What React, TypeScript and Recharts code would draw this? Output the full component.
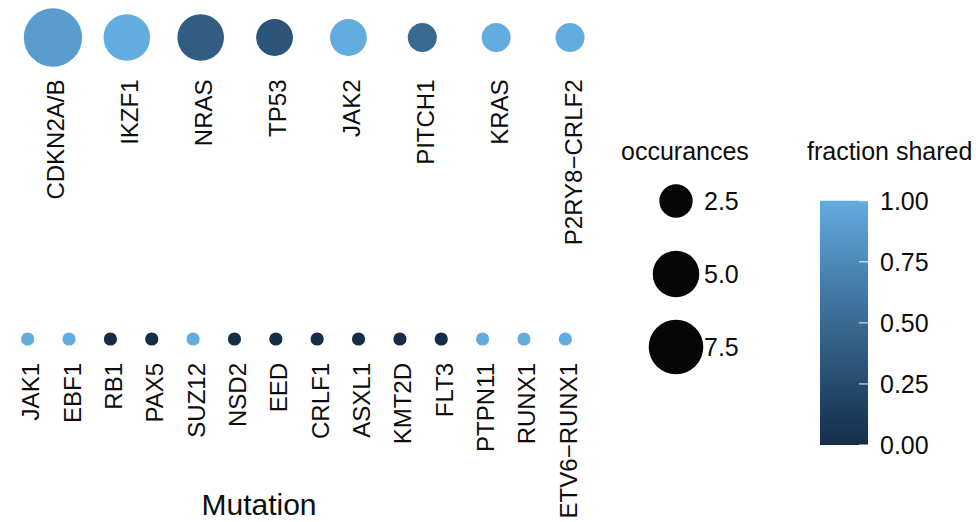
import { ScatterChart, Scatter, BarChart, Bar, XAxis, YAxis, ZAxis, Cell, LabelList } from "recharts"

const topGenes = ["CDKN2A/B", "IKZF1", "NRAS", "TP53", "JAK2", "PITCH1", "KRAS", "P2RY8−CRLF2"]
const topOccurrences = [9, 5, 5, 3, 3, 2, 2, 2]
const topShared = [0.89, 1, 0.4, 0.33, 1, 0.5, 1, 1]

const bottomGenes = ["JAK1", "EBF1", "RB1", "PAX5", "SUZ12", "NSD2", "EED", "CRLF1", "ASXL1", "KMT2D", "FLT3", "PTPN11", "RUNX1", "ETV6−RUNX1"]
const bottomOccurrences = [1, 1, 1, 1, 1, 1, 1, 1, 1, 1, 1, 1, 1, 1]
const bottomShared = [1, 1, 0, 0, 1, 0, 0, 0, 0, 0, 0, 1, 1, 1]

const sizeBreaks = [2.5, 5, 7.5]
const fractionTicks = [0, 0.25, 0.5, 0.75, 1]

const FONT = "'Liberation Sans', Arial, sans-serif"
const INK = "#0d0d0d"

// gradient ends as they appear in the picture, interpolated in Lab
const LOW = "#142E4A"
const HIGH = "#62ACE0"

function toLab(hex: string) {
  const c = [1, 3, 5].map((i) => parseInt(hex.slice(i, i + 2), 16) / 255)
  const [r, g, b] = c.map((v) => (v <= 0.04045 ? v / 12.92 : Math.pow((v + 0.055) / 1.055, 2.4)))
  const X = (0.4124 * r + 0.3576 * g + 0.1805 * b) / 0.95047
  const Y = 0.2126 * r + 0.7152 * g + 0.0722 * b
  const Z = (0.0193 * r + 0.1192 * g + 0.9505 * b) / 1.08883
  const f = (t: number) => (t > 0.008856 ? Math.cbrt(t) : 7.787 * t + 16 / 116)
  return [116 * f(Y) - 16, 500 * (f(X) - f(Y)), 200 * (f(Y) - f(Z))]
}

function fromLab([L, a, bb]: number[]) {
  const fy = (L + 16) / 116
  const fx = fy + a / 500
  const fz = fy - bb / 200
  const inv = (t: number) => (t * t * t > 0.008856 ? t * t * t : (t - 16 / 116) / 7.787)
  const X = inv(fx) * 0.95047
  const Y = inv(fy)
  const Z = inv(fz) * 1.08883
  const lin = [
    3.2406 * X - 1.5372 * Y - 0.4986 * Z,
    -0.9689 * X + 1.8758 * Y + 0.0415 * Z,
    0.0557 * X - 0.204 * Y + 1.057 * Z,
  ]
  return (
    "#" +
    lin
      .map((v) => {
        const s = v <= 0.0031308 ? 12.92 * v : 1.055 * Math.pow(v, 1 / 2.4) - 0.055
        const n = Math.round(Math.min(1, Math.max(0, s)) * 255)
        return n.toString(16).padStart(2, "0")
      })
      .join("")
  )
}

const labLow = toLab(LOW)
const labHigh = toLab(HIGH)
function fracColor(t: number) {
  return fromLab(labLow.map((v, i) => v + (labHigh[i] - v) * t))
}

const topData = topGenes.map((gene, i) => ({ gene, panel: "top", occ: topOccurrences[i], shared: topShared[i] }))
const bottomData = bottomGenes.map((gene, i) => ({ gene, panel: "bottom", occ: bottomOccurrences[i], shared: bottomShared[i] }))
const legendData = sizeBreaks.map((v) => ({ key: "occ", v, occ: v }))
const barData = [{ name: "fraction", v: 1 }]

// size scale shared by the panels and the size legend
const Z_DOMAIN = [1, 9]
const Z_RANGE = [137, 2670]

function GeneTick({ x, y, payload }: any) {
  return (
    <text
      transform={`translate(${x},${y}) rotate(-90)`}
      textAnchor="end"
      dy="0.48em"
      fontSize={24}
      fontFamily={FONT}
      fill={INK}
    >
      {payload.value}
    </text>
  )
}

function BarTick({ x, y, payload }: any) {
  return (
    <g>
      <line x1={x - 21} x2={x - 12} y1={y} y2={y} stroke="#ffffff" strokeOpacity={0.8} strokeWidth={1.2} />
      <text x={x} y={y} dy="0.36em" textAnchor="start" fontSize={25} fontFamily={FONT} fill={INK}>
        {payload.value.toFixed(2)}
      </text>
    </g>
  )
}

function SizeLabel(p: any) {
  const vb = p.viewBox ?? p
  const cx = vb.x + (vb.width ?? 0) / 2
  const cy = vb.y + (vb.height ?? 0) / 2
  return (
    <text x={cx + 28} y={cy} dy="0.36em" fontSize={25} fontFamily={FONT} fill={INK}>
      {Number(p.value).toFixed(1)}
    </text>
  )
}

export default function App() {
  const gradStops = Array.from({ length: 21 }, (_, i) => i / 20)
  return (
    <div style={{ position: "fixed", left: 0, top: 0, width: 976, height: 522, overflow: "hidden", background: "#fff" }}>
      <div style={{ position: "absolute", left: 0, top: 0 }}>
        <ScatterChart width={607} height={275} margin={{ top: 0, right: 0, bottom: 0, left: 16 }}>
          <XAxis
            type="category"
            dataKey="gene"
            allowDuplicatedCategory={false}
            axisLine={false}
            tickLine={false}
            tickSize={0}
            tickMargin={4.5}
            interval={0}
            height={200}
            tick={<GeneTick />}
          />
          <YAxis type="category" dataKey="panel" allowDuplicatedCategory={false} hide />
          <ZAxis type="number" dataKey="occ" domain={Z_DOMAIN} range={Z_RANGE} scale="sqrt" />
          <Scatter data={topData} isAnimationActive={false}>
            {topData.map((d, i) => (
              <Cell key={i} fill={fracColor(d.shared)} />
            ))}
          </Scatter>
        </ScatterChart>
      </div>

      <div style={{ position: "absolute", left: 0, top: 320 }}>
        <ScatterChart width={586} height={218} margin={{ top: 0, right: 0, bottom: 0, left: 7 }}>
          <XAxis
            type="category"
            dataKey="gene"
            allowDuplicatedCategory={false}
            axisLine={false}
            tickLine={false}
            tickSize={0}
            tickMargin={5}
            interval={0}
            height={180}
            tick={<GeneTick />}
          />
          <YAxis type="category" dataKey="panel" allowDuplicatedCategory={false} hide />
          <ZAxis type="number" dataKey="occ" domain={Z_DOMAIN} range={Z_RANGE} scale="sqrt" />
          <Scatter data={bottomData} isAnimationActive={false}>
            {bottomData.map((d, i) => (
              <Cell key={i} fill={fracColor(d.shared)} />
            ))}
          </Scatter>
        </ScatterChart>
      </div>

      {/* size legend */}
      <div style={{ position: "absolute", left: 600, top: 128 }}>
        <ScatterChart width={152} height={292} margin={{ top: 0, right: 0, bottom: 0, left: 0 }}>
          <XAxis type="category" dataKey="key" allowDuplicatedCategory={false} hide />
          <YAxis type="number" dataKey="v" domain={[0, 10]} reversed hide />
          <ZAxis type="number" dataKey="occ" domain={Z_DOMAIN} range={Z_RANGE} scale="sqrt" />
          <Scatter data={legendData} fill="#050505" isAnimationActive={false}>
            <LabelList dataKey="v" content={<SizeLabel />} />
          </Scatter>
        </ScatterChart>
      </div>

      {/* colour bar */}
      <div style={{ position: "absolute", left: 800, top: 180 }}>
        <BarChart width={176} height={290} data={barData} margin={{ top: 20.7, right: 0, bottom: 25, left: 20 }} barCategoryGap={0}>
          <defs>
            <linearGradient id="fracGrad" x1="0" y1="0" x2="0" y2="1">
              {gradStops.map((o) => (
                <stop key={o} offset={o} stopColor={fracColor(1 - o)} />
              ))}
            </linearGradient>
          </defs>
          <XAxis type="category" dataKey="name" hide />
          <YAxis
            orientation="right"
            type="number"
            domain={[0, 1]}
            ticks={fractionTicks}
            interval={0}
            width={108}
            axisLine={false}
            tickLine={false}
            tickSize={0}
            tickMargin={12}
            tick={<BarTick />}
          />
          <Bar dataKey="v" fill="url(#fracGrad)" isAnimationActive={false} />
        </BarChart>
      </div>

      <svg width={976} height={522} style={{ position: "absolute", left: 0, top: 0, pointerEvents: "none" }}>
        <text x={621} y={160} fontSize={25} fontFamily={FONT} fill={INK}>
          occurances
        </text>
        <text x={807} y={160} fontSize={25} fontFamily={FONT} fill={INK}>
          fraction shared
        </text>
        <text x={259} y={515} textAnchor="middle" fontSize={30} fontFamily={FONT} fill={INK}>
          Mutation
        </text>
      </svg>
    </div>
  )
}
